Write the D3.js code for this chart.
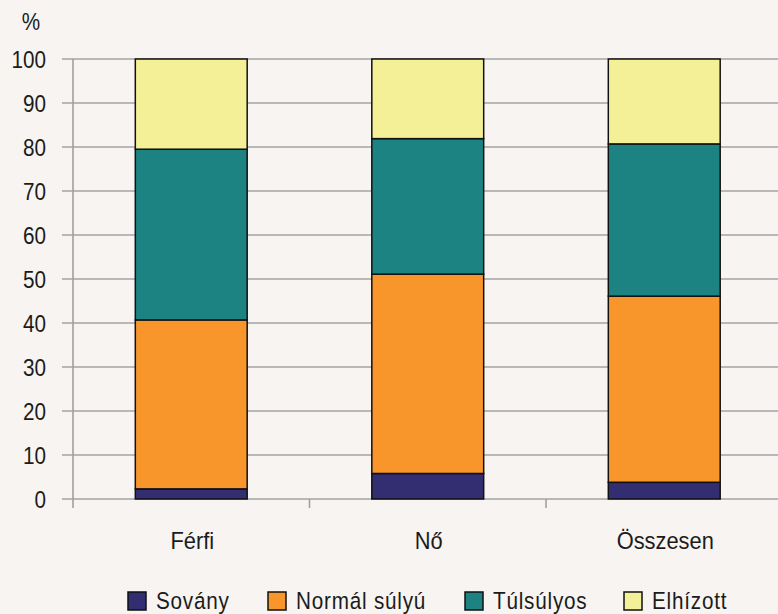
<!DOCTYPE html>
<html>
<head>
<meta charset="utf-8">
<script src="https://cdn.jsdelivr.net/npm/d3@7"></script>
<style>
  html, body { margin: 0; padding: 0; background: #f7f4f1; }
  svg { display: block; }
  text { font-family: "Liberation Sans", Arial, sans-serif; fill: #1b1b1b; font-size: 23.5px; }
</style>
</head>
<body>
<svg id="chart" width="778" height="614"></svg>
<script>
// Testtömeg-kategóriák megoszlása nemenként (%)
const categories = ["Férfi", "Nő", "Összesen"];
const seriesNames = ["Sovány", "Normál súlyú", "Túlsúlyos", "Elhízott"];
const sovany    = [2.3, 5.8, 3.8];
const normal    = [38.4, 45.3, 42.3];
const tulsulyos = [38.8, 30.8, 34.6];
const elhizott  = [20.5, 18.1, 19.3];
const yTicks = [0, 10, 20, 30, 40, 50, 60, 70, 80, 90, 100];
const colors = ["#332d72", "#f8962c", "#1c8282", "#f4f098"];

const seriesValues = [sovany, normal, tulsulyos, elhizott];
const rows = categories.map((c, i) => {
  const r = { category: c };
  seriesNames.forEach((s, k) => { r[s] = seriesValues[k][i]; });
  return r;
});
const stacked = d3.stack().keys(seriesNames)(rows);

const svg = d3.select("#chart");
const plotLeft = 73, plotRight = 782.5, plotTop = 59, plotBottom = 499;
const squeeze = 0.88; // narrow glyph look

const x = d3.scaleBand()
  .domain(categories)
  .range([plotLeft, plotRight])
  .paddingInner(0.527)
  .paddingOuter(0.2635);
const y = d3.scaleLinear().domain([0, 100]).range([plotBottom, plotTop]);

// horizontal gridlines
svg.append("g")
  .selectAll("line")
  .data(yTicks)
  .join("line")
  .attr("x1", 62).attr("x2", 778)
  .attr("y1", d => y(d)).attr("y2", d => y(d))
  .attr("stroke", "#a5a5a5")
  .attr("stroke-width", 1.6);

// y axis labels
const yAxis = d3.axisLeft(y).tickValues(yTicks).tickSize(0);
const gy = svg.append("g").attr("transform", `translate(${plotLeft},0)`).call(yAxis);
gy.select(".domain").remove();
gy.selectAll("text")
  .attr("x", 0).attr("dy", null)
  .attr("transform", `translate(-27,8) scale(${squeeze},1)`)
  .style("font-size", null);

// vertical axis line
svg.append("line")
  .attr("x1", plotLeft).attr("x2", plotLeft)
  .attr("y1", plotTop).attr("y2", plotBottom + 9)
  .attr("stroke", "#a0a0a0").attr("stroke-width", 1.6);

// x category separators
const step = x.step();
const sepX = categories.slice(1).map(c => x(c) - x.paddingInner() * step / 2);
svg.append("g")
  .selectAll("line")
  .data(sepX)
  .join("line")
  .attr("x1", d => d).attr("x2", d => d)
  .attr("y1", plotBottom).attr("y2", plotBottom + 9)
  .attr("stroke", "#a0a0a0").attr("stroke-width", 1.6);

// x axis labels
const xAxis = d3.axisBottom(x).tickSize(0);
const gx = svg.append("g").attr("transform", `translate(0,${plotBottom})`).call(xAxis);
gx.select(".domain").remove();
gx.selectAll("text")
  .attr("y", 0).attr("dy", null)
  .attr("transform", `translate(1,50) scale(0.93,1)`)
  .style("font-size", null);

// stacked bars
svg.append("g")
  .selectAll("g")
  .data(stacked)
  .join("g")
  .attr("fill", (d, i) => colors[i])
  .selectAll("rect")
  .data(d => d)
  .join("rect")
  .attr("x", d => x(d.data.category))
  .attr("width", x.bandwidth())
  .attr("y", d => y(d[1]))
  .attr("height", d => y(d[0]) - y(d[1]))
  .attr("stroke", "#111")
  .attr("stroke-width", 1.5);

// unit label
svg.append("text")
  .attr("transform", `translate(31,30) scale(${squeeze},1)`)
  .attr("text-anchor", "middle")
  .text("%");

// legend
const legendX = [128, 268, 465, 624];
const legend = svg.append("g");
seriesNames.forEach((s, i) => {
  const g = legend.append("g").attr("transform", `translate(${legendX[i]},592)`);
  g.append("rect")
    .attr("width", 18).attr("height", 18)
    .attr("fill", colors[i])
    .attr("stroke", "#111").attr("stroke-width", 1.5);
  g.append("text")
    .attr("transform", `translate(28,17) scale(${squeeze},1)`)
    .attr("letter-spacing", "0.9px")
    .text(s);
});
</script>
</body>
</html>
